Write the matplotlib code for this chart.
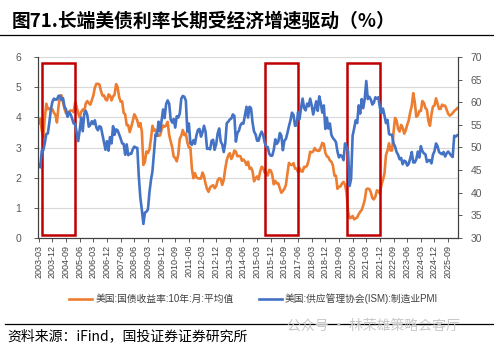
import pandas as pd
import matplotlib.pyplot as plt
from matplotlib.patches import Rectangle

plt.rcParams['font.family'] = ['Liberation Sans', 'Noto Sans CJK SC']

# monthly, 2003-03 .. 2026-03
months = pd.period_range('2003-03', '2026-03', freq='M').strftime('%Y-%m').tolist()

yield_10y = [
    3.81, 3.96, 3.57, 3.33, 3.98, 4.45, 4.27, 4.29, 4.30, 4.27,
    4.15, 4.08, 3.83, 4.35, 4.72, 4.73, 4.50, 4.28, 4.13, 4.10, 4.19, 4.23,
    4.22, 4.17, 4.50, 4.34, 4.14, 4.00, 4.18, 4.26, 4.20, 4.46, 4.54, 4.47,
    4.42, 4.57, 4.72, 4.99, 5.11, 5.11, 5.09, 4.88, 4.72, 4.73, 4.60, 4.56,
    4.76, 4.72, 4.56, 4.69, 4.75, 5.10, 5.00, 4.67, 4.52, 4.53, 4.15, 4.10,
    3.74, 3.74, 3.51, 3.68, 3.88, 4.10, 4.01, 3.89, 3.69, 3.81, 3.53, 2.42,
    2.52, 2.87, 2.82, 2.93, 3.29, 3.72, 3.56, 3.59, 3.40, 3.39, 3.40, 3.59,
    3.73, 3.69, 3.73, 3.85, 3.42, 3.20, 3.01, 2.70, 2.65, 2.54, 2.76, 3.29,
    3.39, 3.58, 3.41, 3.46, 3.17, 3.00, 3.00, 2.30, 1.98, 2.15, 2.01, 1.98,
    1.97, 1.97, 2.17, 2.05, 1.80, 1.62, 1.53, 1.68, 1.72, 1.75, 1.65, 1.72,
    1.91, 1.98, 1.96, 1.76, 1.93, 2.30, 2.58, 2.74, 2.81, 2.62, 2.72, 2.90,
    2.86, 2.71, 2.72, 2.71, 2.56, 2.60, 2.54, 2.42, 2.53, 2.30, 2.33, 2.21,
    1.88, 1.98, 2.04, 1.94, 2.20, 2.36, 2.32, 2.17, 2.17, 2.07, 2.26, 2.24,
    2.09, 1.78, 1.89, 1.81, 1.81, 1.64, 1.50, 1.56, 1.63, 1.76, 2.14, 2.49,
    2.43, 2.42, 2.48, 2.30, 2.30, 2.19, 2.32, 2.21, 2.20, 2.36, 2.35, 2.40,
    2.58, 2.86, 2.84, 2.87, 2.98, 2.91, 2.89, 2.89, 3.00, 3.15, 3.12, 2.83,
    2.71, 2.68, 2.57, 2.53, 2.40, 2.07, 2.06, 1.63, 1.70, 1.71, 1.81, 1.86,
    1.76, 1.50, 0.87, 0.66, 0.67, 0.73, 0.62, 0.65, 0.68, 0.79, 0.87, 0.93,
    1.08, 1.26, 1.61, 1.64, 1.62, 1.52, 1.32, 1.28, 1.37, 1.58, 1.56, 1.47,
    1.76, 1.93, 2.13, 2.75, 2.90, 3.14, 2.90, 2.90, 3.52, 3.98, 3.89, 3.62,
    3.53, 3.75, 3.66, 3.46, 3.57, 3.75, 3.90, 4.17, 4.38, 4.80, 4.50, 4.02,
    4.06, 4.21, 4.21, 4.54, 4.48, 4.31, 4.25, 3.87, 3.72, 4.10, 4.36, 4.39,
    4.63, 4.45, 4.28, 4.28, 4.42, 4.38, 4.39, 4.26, 4.12, 4.06, 4.09, 4.14,
    4.21, 4.25, 4.30,
]

ism_pmi = [
    46.1, 45.6, 49.3, 49.4, 51.0, 53.0, 53.1, 55.6, 58.4, 60.1,
    60.8, 60.6, 60.6, 61.4, 61.4, 60.5, 60.9, 59.0, 58.4, 56.8, 57.8, 57.3,
    56.4, 55.3, 55.2, 53.3, 51.4, 53.8, 56.6, 53.6, 57.4, 58.1, 57.2, 54.6,
    55.0, 55.8, 55.2, 56.0, 54.4, 53.8, 54.7, 54.5, 52.9, 51.2, 49.5, 51.4,
    49.3, 52.3, 50.9, 54.7, 52.8, 54.0, 53.8, 52.9, 52.0, 50.9, 50.8, 48.4,
    50.7, 48.3, 48.6, 48.6, 49.6, 50.2, 50.0, 49.9, 43.5, 38.9, 36.2, 33.1,
    35.6, 35.8, 36.3, 40.1, 42.8, 44.8, 48.9, 52.9, 52.6, 55.7, 53.6, 55.9,
    58.4, 56.5, 59.6, 60.4, 59.7, 56.2, 55.5, 56.3, 54.4, 56.9, 56.6, 57.5,
    60.8, 61.4, 61.2, 60.4, 53.5, 55.3, 50.9, 50.6, 51.6, 50.8, 52.7, 53.9,
    54.1, 52.4, 53.4, 54.8, 53.5, 49.7, 49.8, 49.6, 51.5, 51.7, 49.5, 50.7,
    53.1, 54.2, 51.3, 50.7, 49.0, 50.9, 55.4, 55.7, 56.2, 56.4, 57.3, 57.0,
    51.3, 53.2, 53.7, 54.9, 55.4, 55.3, 57.1, 59.0, 56.6, 59.0, 58.7, 55.5,
    53.5, 52.9, 51.5, 51.5, 52.8, 53.5, 52.7, 51.1, 50.2, 50.1, 48.6, 48.2,
    48.2, 49.5, 51.8, 50.8, 51.3, 53.2, 52.6, 49.4, 51.5, 51.9, 53.2, 54.7,
    56.0, 57.7, 57.2, 54.8, 54.9, 57.8, 56.3, 58.8, 60.8, 58.7, 58.2, 59.7,
    59.1, 60.8, 59.3, 57.3, 58.7, 60.2, 58.1, 61.3, 59.8, 57.7, 59.3, 54.1,
    56.6, 54.2, 55.3, 52.8, 52.1, 51.7, 51.2, 49.1, 47.8, 48.3, 48.1, 47.2,
    50.9, 50.1, 49.1, 41.5, 43.1, 52.6, 54.2, 56.0, 55.4, 59.3, 57.5, 60.7,
    58.7, 60.8, 64.7, 60.7, 61.2, 60.6, 59.5, 59.9, 61.1, 60.8, 61.1, 58.8,
    57.6, 58.6, 57.1, 55.4, 56.1, 53.0, 52.8, 52.8, 50.9, 50.2, 49.0, 48.4,
    47.4, 47.7, 46.3, 47.1, 46.9, 46.0, 46.4, 47.6, 49.0, 46.7, 46.7, 47.4,
    49.1, 47.8, 50.3, 49.2, 48.7, 48.5, 46.8, 47.2, 47.2, 46.5, 48.4, 49.2,
    50.9, 50.3, 49.0, 48.7, 48.5, 49.0, 48.0, 48.7, 49.1, 48.7, 48.2, 47.9,
    52.6, 52.4, 52.7,
]

# highlighted periods (start month, end month)
boxes = [('2003-05', '2005-03'), ('2015-08', '2017-06'), ('2020-02', '2021-12')]

x = list(range(len(months)))
orange = '#ED7D31'
blue = '#4472C4'

fig = plt.figure(figsize=(4.94, 3.48), dpi=100)
ax = fig.add_axes([38 / 494, 1 - 238 / 348, 420 / 494, 181 / 348])
ax2 = ax.twinx()

l1, = ax.plot(x, yield_10y, color=orange, lw=1.9, label='美国:国债收益率:10年:月:平均值')
l2, = ax2.plot(x, ism_pmi, color=blue, lw=1.9, label='美国:供应管理协会(ISM):制造业PMI')

ax.set_ylim(0, 6)
ax2.set_ylim(30, 70)
ax.set_xlim(-0.5, len(months) - 0.5)
ax.set_yticks(range(0, 7))
ax2.set_yticks(range(30, 71, 5))
ax.set_xticks(x[::9])
ax.set_xticklabels(months[::9], rotation=90, fontsize=6.5, color='#404040')
ax.grid(axis='y', color='#d9d9d9', lw=0.8)
ax.set_axisbelow(True)
for a in (ax, ax2):
    a.tick_params(axis='y', labelsize=7.5, labelcolor='#595959', length=3, width=0.6, color='#404040')
    a.spines['top'].set_visible(False)
    for s in ('left', 'right', 'bottom'):
        a.spines[s].set_color('#404040')
        a.spines[s].set_linewidth(0.8)
ax.tick_params(axis='x', length=3, width=0.6, color='#404040', pad=2)
ax.tick_params(axis='y', pad=9)
ax2.tick_params(axis='y', pad=6)

for start, end in boxes:
    i0 = months.index(start)
    i1 = months.index(end)
    ax.add_patch(Rectangle((i0, 0.1), i1 - i0, 5.7, fill=False,
                           edgecolor='#C00000', lw=1.8, clip_on=False, zorder=5))

fig.legend(handles=[l1, l2], loc='center', bbox_to_anchor=(0.513, 1 - 299 / 348),
           ncol=2, frameon=False, fontsize=7, handlelength=2.4, columnspacing=2.6,
           handletextpad=0.3, labelcolor='#404040')

fig.text(0.024, 1 - 21 / 348, '图71.长端美债利率长期受经济增速驱动（%）', fontsize=13.5,
         fontweight='bold', va='center', ha='left', family=['Noto Sans CJK SC', 'DejaVu Sans'])
fig.add_artist(plt.Line2D([0.0, 1.0], [1 - 35 / 348, 1 - 35 / 348], color='black', lw=0.9))
fig.add_artist(plt.Line2D([0.01, 1.0], [1 - 324 / 348, 1 - 324 / 348], color='black', lw=0.9))
fig.text(0.58, 1 - 326 / 348, '公众号 · 林荣雄策略会客厅', fontsize=10, color='#c8c8c8',
         va='center', ha='left', family=['Noto Sans CJK SC', 'DejaVu Sans'])
fig.text(0.014, 1 - 336 / 348, '资料来源：iFind，国投证券证券研究所', fontsize=10,
         style='italic', va='center', ha='left', family=['Noto Sans CJK SC', 'DejaVu Sans'])

fig.savefig('out.png', dpi=100)
